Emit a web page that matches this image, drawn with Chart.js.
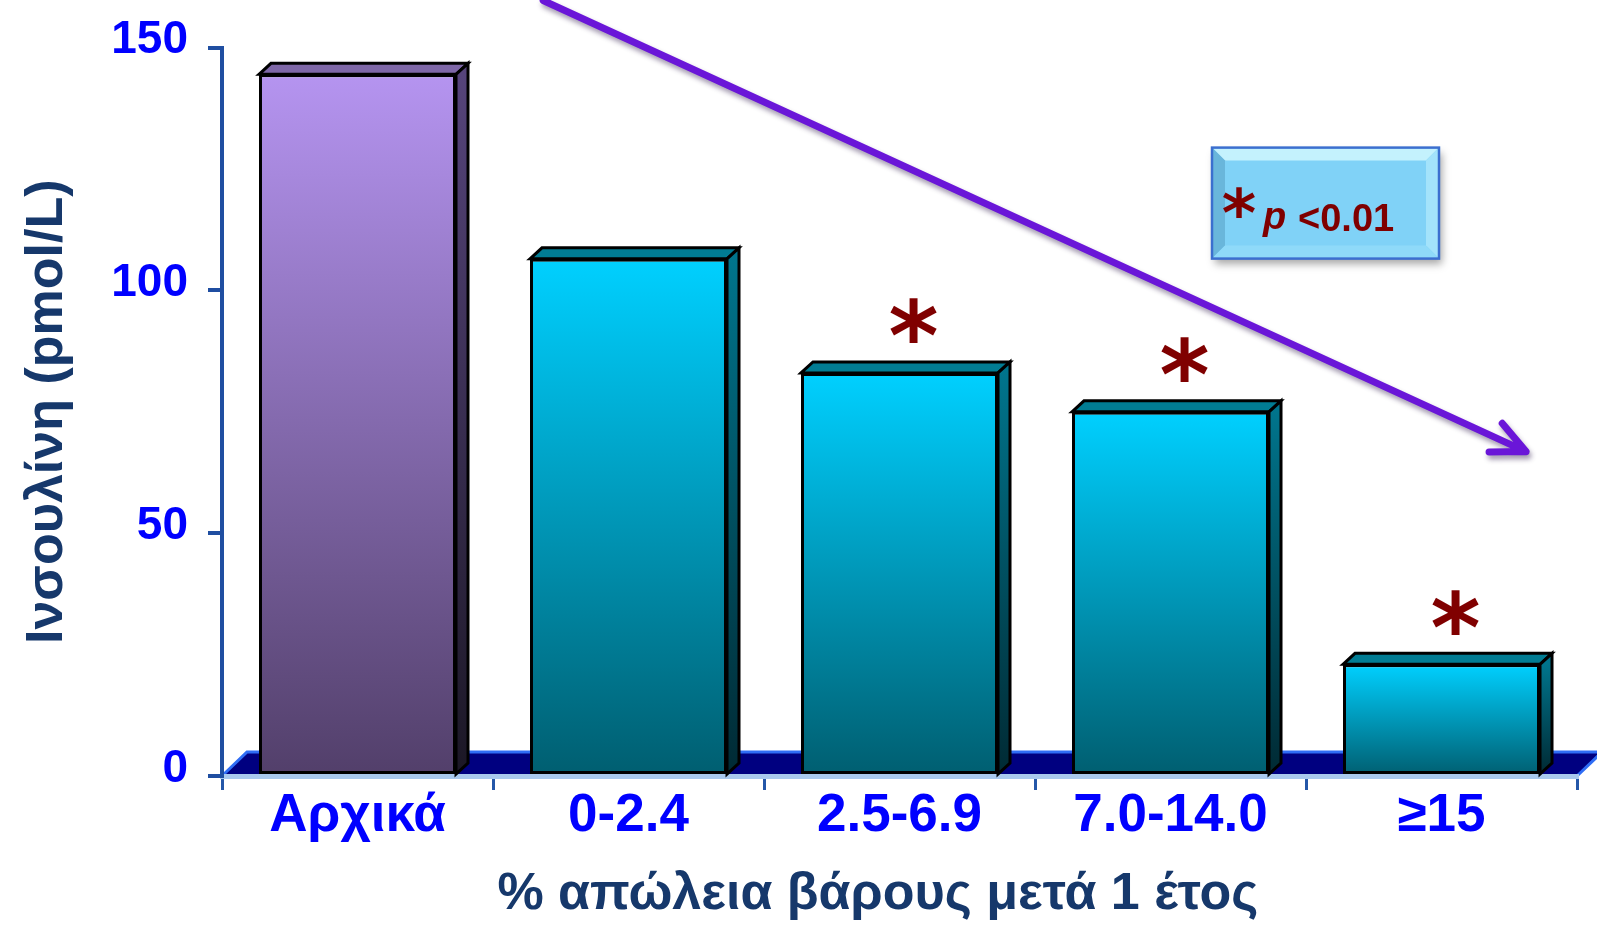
<!DOCTYPE html>
<html lang="el">
<head>
<meta charset="utf-8">
<title>Ινσουλίνη και απώλεια βάρους</title>
<script src="https://cdn.jsdelivr.net/npm/chart.js@4.4.1/dist/chart.umd.min.js"></script>
<style>
    html, body { margin: 0; padding: 0; background: #ffffff; }
    #wrap { width: 1597px; height: 927px; position: relative; }
</style>
</head>
<body>
<div id="wrap"><canvas id="insulinChart"></canvas></div>
<script>
// Insulin (pmol/L) by % weight loss after one year
const categories = ['Αρχικά', '0-2.4', '2.5-6.9', '7.0-14.0', '≥15'];
const insulinValues = [144.5, 106.5, 83, 75, 23];
const significant = [false, false, true, true, true];
const yTicks = [0, 50, 100, 150];
const xTitle = '% απώλεια βάρους μετά 1 έτος';

// 3D look
const DEPTH = { dx: 12, dy: -11 };
const FLOOR = { dx: 25, dy: -24 };
const FONT = 'Liberation Sans';
const TITLE_COLOR = '#16386b';

const palettes = {
    baseline: { front: ['#b594f0', '#523f6a'], top: '#7e67a7', side: ['#56447b', '#1b1725'] },
    group: { front: ['#00d0ff', '#005e70'], top: '#017c93', side: ['#00748c', '#002a34'] }
};

function paletteFor(i) {
    return i === 0 ? palettes.baseline : palettes.group;
}

function frontGradient(ctx) {
    const chart = ctx.chart;
    const pal = paletteFor(ctx.dataIndex);
    const y = chart.scales.y;
    if (!chart.chartArea || !y || ctx.raw == null) return pal.front[0];
    const top = y.getPixelForValue(ctx.raw);
    const bottom = y.getPixelForValue(0);
    const g = chart.ctx.createLinearGradient(0, top, 0, bottom);
    g.addColorStop(0, pal.front[0]);
    g.addColorStop(1, pal.front[1]);
    return g;
}

// draw a glyph so that its ink is centred on (cx, cy) with the given ink height
function drawGlyph(ctx, text, cx, cy, inkHeight, family, color) {
    ctx.font = 'bold 100px "' + family + '"';
    const m = ctx.measureText(text);
    const h = m.actualBoundingBoxAscent + m.actualBoundingBoxDescent;
    const size = 100 * inkHeight / h;
    ctx.font = 'bold ' + size + 'px "' + family + '"';
    const m2 = ctx.measureText(text);
    ctx.fillStyle = color;
    ctx.textAlign = 'center';
    ctx.textBaseline = 'alphabetic';
    ctx.fillText(text, cx, cy + (m2.actualBoundingBoxAscent - m2.actualBoundingBoxDescent) / 2);
}

const bar3d = {
    id: 'bar3d',
    beforeDraw(chart) {
        // floor plate
        const { ctx, chartArea: a, scales: { y } } = chart;
        const base = y.getPixelForValue(0);
        ctx.save();
        ctx.beginPath();
        ctx.moveTo(a.left, base);
        ctx.lineTo(a.right, base);
        ctx.lineTo(a.right + FLOOR.dx, base + FLOOR.dy);
        ctx.lineTo(a.left + FLOOR.dx, base + FLOOR.dy);
        ctx.closePath();
        ctx.fillStyle = '#000080';
        ctx.fill();
        ctx.strokeStyle = '#2f6df5';
        ctx.lineWidth = 3;
        ctx.beginPath();
        ctx.moveTo(a.left + 2, base - 2);
        ctx.lineTo(a.left + FLOOR.dx, base + FLOOR.dy);
        ctx.lineTo(a.right + FLOOR.dx, base + FLOOR.dy);
        ctx.moveTo(a.right, base);
        ctx.lineTo(a.right + FLOOR.dx, base + FLOOR.dy);
        ctx.stroke();
        ctx.restore();
    },
    afterDatasetsDraw(chart) {
        const { ctx } = chart;
        const meta = chart.getDatasetMeta(0);
        ctx.save();
        ctx.lineWidth = 3;
        ctx.strokeStyle = '#000000';
        ctx.lineJoin = 'miter';
        meta.data.forEach((bar, i) => {
            const { x, y: top, base, width } = bar.getProps(['x', 'y', 'base', 'width'], true);
            const L = x - width / 2, R = x + width / 2;
            const pal = paletteFor(i);

            ctx.beginPath();
            ctx.moveTo(L, top);
            ctx.lineTo(L + DEPTH.dx, top + DEPTH.dy);
            ctx.lineTo(R + DEPTH.dx, top + DEPTH.dy);
            ctx.lineTo(R, top);
            ctx.closePath();
            ctx.fillStyle = pal.top;
            ctx.fill();
            ctx.stroke();

            const g = ctx.createLinearGradient(0, top, 0, base);
            g.addColorStop(0, pal.side[0]);
            g.addColorStop(1, pal.side[1]);
            ctx.beginPath();
            ctx.moveTo(R, top);
            ctx.lineTo(R + DEPTH.dx, top + DEPTH.dy);
            ctx.lineTo(R + DEPTH.dx, base + DEPTH.dy);
            ctx.lineTo(R, base);
            ctx.closePath();
            ctx.fillStyle = g;
            ctx.fill();
            ctx.stroke();

            if (significant[i]) {
                drawGlyph(ctx, '*', x + 14, top - 52, 45, 'DejaVu Sans', '#800000');
            }
        });
        ctx.restore();
    },
    afterDraw(chart) {
        const { ctx, chartArea: a, scales: { x, y } } = chart;

        // trend arrow
        const x0 = x.getPixelForValue(0.685), y0 = y.getPixelForValue(159.7);
        const x1 = x.getPixelForValue(4.312), y1 = y.getPixelForValue(66.8);
        const ang = Math.atan2(y1 - y0, x1 - x0);
        const head = 37, spread = 0.44;
        ctx.save();
        ctx.strokeStyle = '#6a16d8';
        ctx.lineWidth = 7;
        ctx.lineCap = 'round';
        ctx.lineJoin = 'round';
        ctx.shadowColor = 'rgba(50, 30, 80, 0.45)';
        ctx.shadowBlur = 5;
        ctx.shadowOffsetX = 2;
        ctx.shadowOffsetY = 4;
        ctx.beginPath();
        ctx.moveTo(x0, y0);
        ctx.lineTo(x1, y1);
        ctx.moveTo(x1 - head * Math.cos(ang - spread), y1 - head * Math.sin(ang - spread));
        ctx.lineTo(x1, y1);
        ctx.lineTo(x1 - head * Math.cos(ang + spread), y1 - head * Math.sin(ang + spread));
        ctx.stroke();
        ctx.restore();

        // x axis title, centred a little left of the plot middle
        ctx.save();
        ctx.font = 'bold 52px "' + FONT + '"';
        ctx.fillStyle = TITLE_COLOR;
        ctx.textAlign = 'center';
        ctx.textBaseline = 'middle';
        ctx.fillText(xTitle, x.getPixelForValue(1.92), chart.height - 32);
        ctx.restore();

        // significance key
        const bx = a.right - 365, by = a.top + 100, bw = 227, bh = 111, bev = 13;
        ctx.save();
        ctx.shadowColor = 'rgba(0, 0, 0, 0.35)';
        ctx.shadowBlur = 8;
        ctx.shadowOffsetX = 3;
        ctx.shadowOffsetY = 5;
        ctx.fillStyle = '#80d2f7';
        ctx.fillRect(bx, by, bw, bh);
        ctx.restore();

        ctx.save();
        const bevels = [
            ['#c4f2fd', [[bx, by], [bx + bw, by], [bx + bw - bev, by + bev], [bx + bev, by + bev]]],
            ['#69b6db', [[bx, by], [bx + bev, by + bev], [bx + bev, by + bh - bev], [bx, by + bh]]],
            ['#a3e3fb', [[bx + bw, by], [bx + bw, by + bh], [bx + bw - bev, by + bh - bev], [bx + bw - bev, by + bev]]],
            ['#8fdaf9', [[bx, by + bh], [bx + bev, by + bh - bev], [bx + bw - bev, by + bh - bev], [bx + bw, by + bh]]]
        ];
        bevels.forEach(([c, pts]) => {
            ctx.beginPath();
            pts.forEach(([px, py], k) => (k ? ctx.lineTo(px, py) : ctx.moveTo(px, py)));
            ctx.closePath();
            ctx.fillStyle = c;
            ctx.fill();
        });
        ctx.strokeStyle = '#3b6fcf';
        ctx.lineWidth = 2.5;
        ctx.strokeRect(bx, by, bw, bh);

        drawGlyph(ctx, '*', bx + 27, by + 55, 31, 'DejaVu Sans', '#7f0000');
        ctx.fillStyle = '#7f0000';
        ctx.textAlign = 'left';
        ctx.textBaseline = 'alphabetic';
        ctx.font = 'italic bold 38px "' + FONT + '"';
        ctx.fillText('p', bx + 51, by + 81);
        ctx.font = 'bold 38px "' + FONT + '"';
        ctx.fillText('<0.01', bx + 86, by + 83);
        ctx.restore();
    }
};

new Chart(document.getElementById('insulinChart'), {
    type: 'bar',
    data: {
        labels: categories,
        datasets: [{
            data: insulinValues,
            backgroundColor: frontGradient,
            borderColor: '#000000',
            borderWidth: 3,
            borderSkipped: false,
            categoryPercentage: 1,
            barPercentage: 0.727
        }]
    },
    options: {
        responsive: true,
        maintainAspectRatio: false,
        animation: false,
        layout: { padding: { top: 47, right: 20, left: 0, bottom: 0 } },
        plugins: {
            legend: { display: false },
            tooltip: { enabled: false }
        },
        scales: {
            x: {
                offset: true,
                grid: { drawOnChartArea: false, offset: true, tickLength: 14, color: '#2457a8', lineWidth: 3 },
                border: { color: '#a9c9ee', width: 5 },
                ticks: {
                    color: '#0000ff',
                    font: { family: FONT, size: 53, weight: 'bold' },
                    padding: -5,
                    maxRotation: 0
                },
                afterFit: s => { s.height = 151; }
            },
            y: {
                min: 0,
                max: 150,
                afterBuildTicks: s => { s.ticks = yTicks.map(v => ({ value: v })); },
                grid: { drawOnChartArea: false, tickLength: 14, color: '#1f4ea1', lineWidth: 4 },
                border: { color: '#1f4ea1', width: 4 },
                ticks: {
                    color: '#0000ff',
                    font: { family: FONT, size: 46, weight: 'bold' },
                    padding: 20,
                    labelOffset: -7
                },
                title: {
                    display: true,
                    text: 'Ινσουλίνη (pmol/L)',
                    color: TITLE_COLOR,
                    font: { family: FONT, size: 52, weight: 'bold' },
                    padding: { top: 16, bottom: 0 }
                },
                afterFit: s => { s.width = 222; }
            }
        }
    },
    plugins: [bar3d]
});
</script>
</body>
</html>
